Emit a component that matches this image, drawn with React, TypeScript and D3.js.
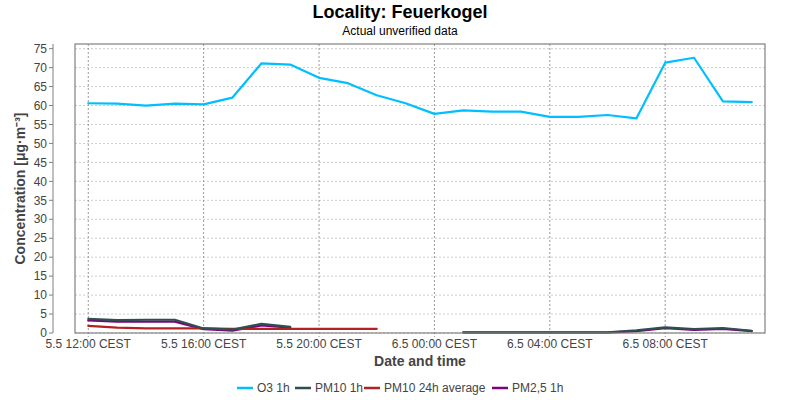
import React from 'react';
import * as d3 from 'd3';

// hourly timestamps (local CEST wall time)
const times = [
  '2024-05-05T12:00', '2024-05-05T13:00', '2024-05-05T14:00', '2024-05-05T15:00',
  '2024-05-05T16:00', '2024-05-05T17:00', '2024-05-05T18:00', '2024-05-05T19:00',
  '2024-05-05T20:00', '2024-05-05T21:00', '2024-05-05T22:00', '2024-05-05T23:00',
  '2024-05-06T00:00', '2024-05-06T01:00', '2024-05-06T02:00', '2024-05-06T03:00',
  '2024-05-06T04:00', '2024-05-06T05:00', '2024-05-06T06:00', '2024-05-06T07:00',
  '2024-05-06T08:00', '2024-05-06T09:00', '2024-05-06T10:00', '2024-05-06T11:00',
];

const o3 = [60.6, 60.5, 60.0, 60.5, 60.3, 62.1, 71.1, 70.8, 67.3, 65.9, 62.7, 60.6,
  57.8, 58.7, 58.4, 58.4, 57.0, 57.0, 57.5, 56.6, 71.3, 72.6, 61.1, 60.9];
const pm10 = [3.7, 3.4, 3.5, 3.5, 1.2, 0.9, 2.4, 1.6, null, null, null, null,
  null, 0.2, 0.2, 0.2, 0.2, 0.2, 0.2, 0.7, 1.5, 1.0, 1.3, 0.6];
const pm10avg = [1.9, 1.4, 1.2, 1.2, 1.2, 1.1, 1.1, 1.1, 1.1, 1.1, 1.1, null,
  null, null, null, null, null, null, null, null, null, null, null, null];
const pm25 = [3.3, 3.0, 3.0, 3.0, 1.0, 0.6, 2.0, 1.4, null, null, null, null,
  null, 0.1, 0.1, 0.1, 0.1, 0.1, 0.1, 0.5, 1.3, 0.8, 1.1, 0.5];

const yTicks = [0, 5, 10, 15, 20, 25, 30, 35, 40, 45, 50, 55, 60, 65, 70, 75];
const xTickTimes = ['2024-05-05T12:00', '2024-05-05T16:00', '2024-05-05T20:00',
  '2024-05-06T00:00', '2024-05-06T04:00', '2024-05-06T08:00'];

const seriesList = [
  { name: 'O3 1h', values: o3, color: '#00bfff' },
  { name: 'PM10 1h', values: pm10, color: '#2f4f4f' },
  { name: 'PM10 24h average', values: pm10avg, color: '#b22222' },
  { name: 'PM2,5 1h', values: pm25, color: '#800080' },
];

const parse = d3.utcParse('%Y-%m-%dT%H:%M');
const fmt = d3.utcFormat('%-d.%-m %H:%M CEST');
const font = '"Liberation Sans", Arial, sans-serif';

export default function App() {
  const W = 800, H = 400;
  const m = { top: 44, right: 35, bottom: 67, left: 75 };
  const dates = times.map(t => parse(t)!);
  const [t0, t1] = d3.extent(dates) as [Date, Date];
  const pad = (t1.getTime() - t0.getTime()) * 0.02;

  const x = d3.scaleUtc()
    .domain([new Date(t0.getTime() - pad), new Date(t1.getTime() + pad)])
    .range([m.left, W - m.right]);
  const yMax = d3.max(o3)! * 1.05;
  const y = d3.scaleLinear().domain([0, yMax]).range([H - m.bottom, m.top]);

  const line = d3.line<[Date, number | null]>()
    .defined(d => d[1] != null)
    .x(d => x(d[0]))
    .y(d => y(d[1] as number));

  const x0 = m.left, x1 = W - m.right, yTop = m.top, yBot = H - m.bottom;
  const axisX = 53;

  const legendItems = [
    { ...seriesList[0], x: 237 },
    { ...seriesList[1], x: 295 },
    { ...seriesList[2], x: 364 },
    { ...seriesList[3], x: 492 },
  ];

  return (
    <div style={{ position: 'fixed', left: 0, top: 0 }}>
      <svg width={W} height={H} style={{ display: 'block', background: '#fff', fontFamily: font }}>
        <text x={W / 2} y={18} textAnchor="middle" fontSize={18} fontWeight="bold" fill="#000">
          Locality: Feuerkogel
        </text>
        <text x={W / 2} y={35} textAnchor="middle" fontSize={12} fill="#000">
          Actual unverified data
        </text>

        {/* horizontal grid */}
        {yTicks.map(t => (
          <line key={'gy' + t} x1={x0} x2={x1} y1={y(t)} y2={y(t)}
            stroke="#c0c0c0" strokeWidth={0.8} strokeDasharray="2,2" />
        ))}
        {/* vertical grid */}
        {xTickTimes.map(s => {
          const xx = x(parse(s)!);
          return <line key={'gx' + s} x1={xx} x2={xx} y1={yTop} y2={yBot + 4}
            stroke="#808080" strokeWidth={0.8} strokeDasharray="2,2" />;
        })}

        {/* series */}
        {[...seriesList].reverse().map(s => (
          <path key={s.name}
            d={line(dates.map((d, i) => [d, s.values[i]] as [Date, number | null])) || ''}
            fill="none" stroke={s.color} strokeWidth={2.2} strokeLinejoin="round" strokeLinecap="round" />
        ))}

        {/* plot border */}
        <rect x={x0} y={yTop} width={x1 - x0} height={yBot - yTop}
          fill="none" stroke="#808080" strokeWidth={1.2} />

        {/* y axis */}
        <line x1={axisX} x2={axisX} y1={yTop} y2={yBot} stroke="#808080" strokeWidth={1} />
        {yTicks.map(t => (
          <g key={'yt' + t}>
            <line x1={axisX - 4} x2={axisX} y1={y(t)} y2={y(t)} stroke="#808080" />
            <text x={axisX - 6} y={y(t)} dy="0.35em" textAnchor="end" fontSize={12} fill="#444">{t}</text>
          </g>
        ))}
        <text transform={`translate(25,${(yTop + yBot) / 2}) rotate(-90)`} textAnchor="middle"
          fontSize={14} fontWeight="bold" fill="#444">
          Concentration [μg·m⁻³]
        </text>

        {/* x axis */}
        {xTickTimes.map(s => {
          const d = parse(s)!;
          return (
            <text key={'xt' + s} x={x(d)} y={yBot + 15} textAnchor="middle" fontSize={12} fill="#444">
              {fmt(d)}
            </text>
          );
        })}
        <text x={(x0 + x1) / 2} y={yBot + 33} textAnchor="middle" fontSize={14} fontWeight="bold" fill="#444">
          Date and time
        </text>

        {/* legend */}
        {legendItems.map(it => (
          <g key={'lg' + it.name}>
            <line x1={it.x} x2={it.x + 16} y1={388} y2={388} stroke={it.color} strokeWidth={2.5} />
            <text x={it.x + 20} y={388} dy="0.35em" fontSize={12} fill="#444">{it.name}</text>
          </g>
        ))}
      </svg>
    </div>
  );
}
